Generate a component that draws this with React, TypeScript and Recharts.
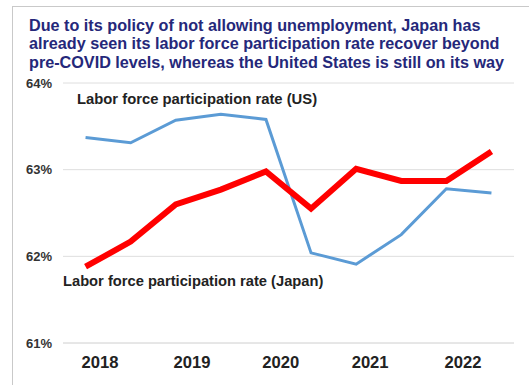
import React from "react";
import { LineChart, Line, XAxis, YAxis, CartesianGrid } from "recharts";

// half-year observations, 2018 H1 .. 2022 H2
const periods = [
  "2018 H1", "2018 H2", "2019 H1", "2019 H2", "2020 H1",
  "2020 H2", "2021 H1", "2021 H2", "2022 H1", "2022 H2",
];
const usRate = [63.37, 63.31, 63.57, 63.64, 63.58, 62.04, 61.91, 62.25, 62.78, 62.73];
const japanRate = [61.88, 62.17, 62.6, 62.77, 62.98, 62.55, 63.01, 62.87, 62.87, 63.21];

const yearLabels = ["2018", "2019", "2020", "2021", "2022"];
const yearTickPos = [0.32, 2.36, 4.33, 6.31, 8.37];
const yTicks = [61, 62, 63, 64];

const titleLines = [
  "Due to its policy of not allowing unemployment, Japan has",
  "already seen its labor force participation rate recover beyond",
  "pre-COVID levels, whereas the United States is still on its way",
];

const data = periods.map((p, i) => ({
  period: p,
  x: i,
  us: usRate[i],
  japan: japanRate[i],
}));

const font = "'Liberation Sans', Arial, sans-serif";

export default function App() {
  const yearFor = (v: number) => {
    const idx = yearTickPos.indexOf(v);
    return idx >= 0 ? yearLabels[idx] : "";
  };

  return (
    <div
      style={{
        position: "absolute",
        left: 0,
        top: 0,
        width: 529,
        height: 385,
        background: "#fff",
        fontFamily: font,
        overflow: "hidden",
      }}
    >
      <div
        style={{
          position: "absolute",
          left: 12,
          top: 6,
          width: 517,
          height: 379,
          borderLeft: "1px solid #c9c9c9",
          borderTop: "1px solid #c9c9c9",
        }}
      />
      <div
        style={{
          position: "absolute",
          left: 29,
          top: 15.5,
          fontSize: 16.2,
          lineHeight: "18.5px",
          fontWeight: "bold",
          color: "#25287a",
          whiteSpace: "nowrap",
        }}
      >
        {titleLines.map((l) => (
          <div key={l}>{l}</div>
        ))}
      </div>

      <div style={{ position: "absolute", left: 0, top: 0 }}>
        <LineChart
          width={529}
          height={385}
          data={data}
          margin={{ top: 83, right: 15, bottom: 0, left: 0 }}
        >
          <CartesianGrid vertical={false} stroke="#dedede" strokeWidth={1} />
          <XAxis
            dataKey="x"
            type="number"
            domain={[-0.5, 9.5]}
            ticks={yearTickPos}
            tickFormatter={yearFor}
            axisLine={{ stroke: "#dedede" }}
            tickLine={false}
            tickSize={0}
            tickMargin={13}
            tick={{ fontSize: 16.6, fontWeight: "bold", fill: "#222", fontFamily: font }}
            height={42}
          />
          <YAxis
            type="number"
            domain={[61, 64]}
            ticks={yTicks}
            tickFormatter={(v: number) => `${v}%`}
            axisLine={false}
            tickLine={false}
            tickSize={0}
            tickMargin={11}
            width={63}
            tick={{ fontSize: 13, fontWeight: "bold", fill: "#333", fontFamily: font }}
          />
          <Line
            dataKey="us"
            stroke="#5b9bd5"
            strokeWidth={3}
            dot={false}
            type="linear"
            isAnimationActive={false}
          />
          <Line
            dataKey="japan"
            stroke="#ff0000"
            strokeWidth={6}
            dot={false}
            type="linear"
            isAnimationActive={false}
          />
        </LineChart>
      </div>

      <div
        style={{
          position: "absolute",
          left: 77,
          top: 91.5,
          fontSize: 14.8,
          lineHeight: "14.8px",
          fontWeight: "bold",
          color: "#222",
          whiteSpace: "nowrap",
        }}
      >
        Labor force participation rate (US)
      </div>
      <div
        style={{
          position: "absolute",
          left: 63,
          top: 274,
          fontSize: 14.7,
          lineHeight: "14.7px",
          fontWeight: "bold",
          color: "#222",
          whiteSpace: "nowrap",
        }}
      >
        Labor force participation rate (Japan)
      </div>
    </div>
  );
}
